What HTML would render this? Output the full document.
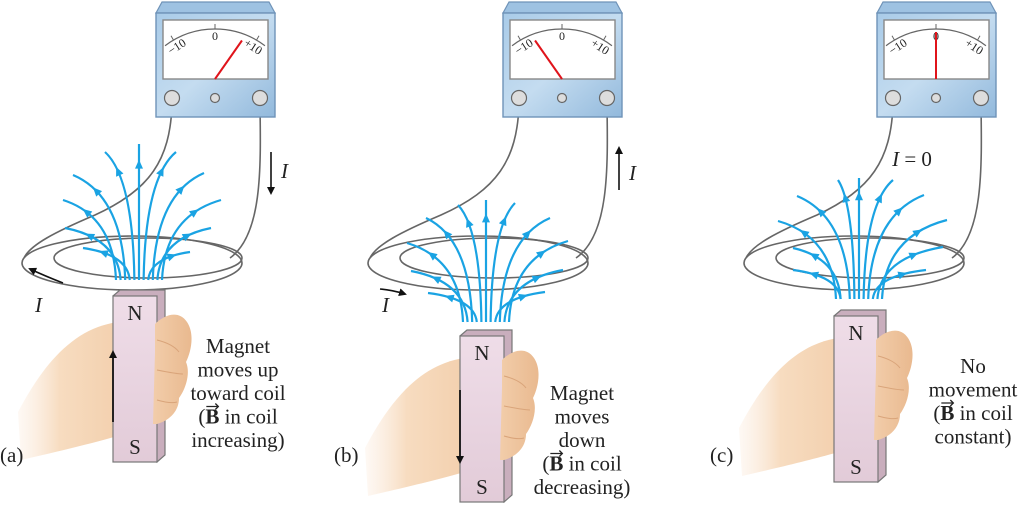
<!DOCTYPE html>
<html><head><meta charset="utf-8"><style>
html,body{margin:0;padding:0;background:#fff}
svg{display:block}
text{font-family:"Liberation Serif",serif;fill:#222}
</style></head><body>
<svg id="s" width="1024" height="505" viewBox="0 0 1024 505" xmlns="http://www.w3.org/2000/svg">
<defs>
<linearGradient id="meterG" x1="0" y1="0" x2="1" y2="1"><stop offset="0" stop-color="#a9cbe8"/><stop offset="0.5" stop-color="#c4dcf0"/><stop offset="1" stop-color="#92b9dc"/></linearGradient>
<linearGradient id="skin" x1="0" y1="0" x2="1" y2="0"><stop offset="0" stop-color="#fbeadb" stop-opacity="0.3"/><stop offset="0.3" stop-color="#f7dcc0"/><stop offset="1" stop-color="#f0c8a2"/></linearGradient>
<linearGradient id="fistG" x1="0" y1="0" x2="1" y2="0"><stop offset="0" stop-color="#f2cdaa"/><stop offset="1" stop-color="#e9b98f"/></linearGradient>
<linearGradient id="mag" x1="0" y1="0" x2="0" y2="1"><stop offset="0" stop-color="#efdde8"/><stop offset="1" stop-color="#e2cbd8"/></linearGradient>
<marker id="ah" markerWidth="8" markerHeight="8" refX="6" refY="4" orient="auto" markerUnits="userSpaceOnUse"><path d="M0,0 L8,4 L0,8 z" fill="#111"/></marker>
</defs>
<g id="root"></g>
</svg>
<script>
// panel data
const panelIds = ['a','b','c'];
const meterOffsets = [0, 347, 721];
const coilOffsets = [0, 346, 722];
const needleAngles = [35, -35, 0]; // degrees from vertical
const fieldOrigins = [[139,280],[486,322],[859,299]];
const fieldEndsA = [[139,144],[105,152],[176,152],[73,175],[204,173],[63,200],[221,200],[65,228],[211,228],[83,248],[190,252]];
const fieldEndsB = [[486,200],[458,205],[515,203],[426,218],[550,218],[407,243],[568,241],[411,271],[563,270],[428,293],[545,292]];
const fieldEndsC = [[859,178],[838,180],[893,180],[797,196],[924,195],[778,221],[947,220],[793,248],[943,247],[793,270],[926,270]];
const fieldEnds = [fieldEndsA, fieldEndsB, fieldEndsC];
const magnets = [[113,290],[460,330],[834,310]];
const grips = [[113,312],[460,348],[834,328]];
const captionsA = ['Magnet','moves up','toward coil','(B in coil','increasing)'];
const captionsB = ['Magnet','moves','down','(B in coil','decreasing)'];
const captionsC = ['No','movement','(B in coil','constant)'];
const captions = [captionsA, captionsB, captionsC];
const captionPos = [[238,353],[582,400],[973,373]];
const labels = ['(a)','(b)','(c)'];
const labelPos = [[0,462],[334,462],[710,462]];

const NS='http://www.w3.org/2000/svg';
const root=document.getElementById('root');
function mk(tag,attrs,parent){const e=document.createElementNS(NS,tag);for(const k in attrs)e.setAttribute(k,attrs[k]);(parent||root).appendChild(e);return e;}

panelIds.forEach((pid,i)=>{
  const P=mk('g',{});
  
  
  const mo=meterOffsets[i], co=coilOffsets[i];
  const w1=mk('path',{d:`M${172+mo},105 C${170+mo},160 ${150+mo},190 ${95+co},215 C${55+co},232 ${30+co},245 ${24+co},258`,fill:'none',stroke:'#666','stroke-width':1.6},P);
  
  
  const w2=mk('path',{d:`M${260+mo},105 C${261+mo},170 ${262+mo},235 ${230+co},258`,fill:'none',stroke:'#666','stroke-width':1.6},P);
  
  
  const c1=mk('ellipse',{cx:132+co,cy:263,rx:110,ry:27,fill:'none',stroke:'#666','stroke-width':1.6},P);
  
  
  const c2=mk('ellipse',{cx:148+co,cy:258,rx:94,ry:20,fill:'none',stroke:'#666','stroke-width':1.6},P);
  
  
  const M=mk('g',{transform:`translate(${mo},0)`},P);
  
  
  mk('path',{d:'M162,2 L269,2 L275,13 L156,13 Z',fill:'#9ec2e2',stroke:'#6f93b8','stroke-width':1.2},M);
  mk('rect',{x:156,y:13,width:119,height:104,fill:'url(#meterG)',stroke:'#6f93b8','stroke-width':1.4},M);
  const face=mk('rect',{x:163,y:20,width:105,height:59,fill:'#fff',stroke:'#888','stroke-width':1.4},M);
  
  
  const cx=215, cy=112, r=83;
  const a0=-37*Math.PI/180, a1=37*Math.PI/180;
  mk('path',{d:`M${cx+r*Math.sin(a0)},${cy-r*Math.cos(a0)} A${r},${r} 0 0 1 ${cx+r*Math.sin(a1)},${cy-r*Math.cos(a1)}`,fill:'none',stroke:'#666','stroke-width':1.2},M);
  [-30,0,30].forEach(d=>{const t=d*Math.PI/180;mk('line',{x1:cx+r*Math.sin(t),y1:cy-r*Math.cos(t),x2:cx+(r+5)*Math.sin(t),y2:cy-(r+5)*Math.cos(t),stroke:'#666','stroke-width':1},M);});
  let t=mk('text',{x:179,y:50,'font-size':12,'text-anchor':'middle',transform:'rotate(-33 179 50)'},M);t.textContent='−10';
  
  t=mk('text',{x:215,y:40,'font-size':12,'text-anchor':'middle'},M);t.textContent='0';
  
  t=mk('text',{x:251,y:50,'font-size':12,'text-anchor':'middle',transform:'rotate(33 251 50)'},M);t.textContent='+10';
  
  const na=needleAngles[i]*Math.PI/180;
  const nd=mk('line',{x1:215,y1:79,x2:215+47*Math.sin(na),y2:79-47*Math.cos(na),stroke:'#e0141b','stroke-width':2},M);
  
  
  [[172,98,7.5],[215,98,4.5],[260,98,7.5]].forEach((c,k)=>{const e=mk('circle',{cx:c[0],cy:c[1],r:c[2],fill:'#ddd',stroke:'#666','stroke-width':1.2},M);
    
    });
  // hand (behind magnet)
  const [gx,gy]=grips[i];
  const hand=mk('path',{d:`M${gx-95},${gy+100} C${gx-75},${gy+62} ${gx-50},${gy+28} ${gx-15},${gy+15} C${gx+10},${gy+6} ${gx+30},${gy+8} ${gx+44},${gy+10} L${gx+44},${gy+110} C${gx+20},${gy+122} ${gx-40},${gy+136} ${gx-92},${gy+148} Z`,fill:'url(#skin)'},P);
  
  
  const [mx,my]=magnets[i];
  const bottom=Math.min(my+172,503);
  const MG=mk('g',{},P);
  
  
  mk('path',{d:`M${mx},${my+6} L${mx+7},${my} L${mx+52},${my} L${mx+52},${bottom-7} L${mx+44},${bottom} Z`,fill:'#c9aebd',stroke:'#777','stroke-width':1.2},MG);
  mk('rect',{x:mx,y:my+6,width:44,height:bottom-my-6,fill:'url(#mag)',stroke:'#777','stroke-width':1.2},MG);
  t=mk('text',{x:mx+22,y:my+30,'font-size':21,'text-anchor':'middle'},MG);t.textContent='N';
  
  t=mk('text',{x:mx+22,y:bottom-8,'font-size':21,'text-anchor':'middle'},MG);t.textContent='S';
  
  // fist over magnet side
  const fist=mk('path',{d:`M${gx+42},${gy+12} C${gx+52},${gy+2} ${gx+66},${gy-2} ${gx+74},${gy+10} C${gx+82},${gy+22} ${gx+78},${gy+40} ${gx+73},${gy+50} C${gx+78},${gy+62} ${gx+72},${gy+78} ${gx+66},${gy+86} C${gx+66},${gy+98} ${gx+58},${gy+108} ${gx+44},${gy+112} L${gx+40},${gy+112} L${gx+42},${gy+40} Z`,fill:'url(#fistG)'},P);
  
  
  [[44,20,66,40],[44,50,70,62],[44,80,64,90]].forEach(q=>{
    const cr=mk('path',{d:`M${gx+q[0]},${gy+q[1]+8} Q${gx+q[2]-6},${gy+q[1]+12} ${gx+q[2]},${gy+q[3]}`,fill:'none',stroke:'#d9a47a','stroke-width':1},P);
    
    
  });
  // field lines
  const [ox,oy]=fieldOrigins[i];
  const ends=fieldEnds[i];
  const sorted=ends.map(e=>e[0]).slice().sort((a,b)=>a-b);
  ends.forEach((e,k)=>{
    const rank=sorted.indexOf(e[0]);
    const sx=ox+(rank-(ends.length-1)/2)*4.6;
    const ctrl=[sx+(e[0]-sx)*0.05, e[1]+(oy-e[1])*0.2];
    const fl=mk('path',{d:`M${sx},${oy} Q${ctrl[0]},${ctrl[1]} ${e[0]},${e[1]}`,fill:'none',stroke:'#1aa3e3','stroke-width':2.2},P);
    
    
    const tt=0.72,u=1-tt;
    const px=u*u*sx+2*u*tt*ctrl[0]+tt*tt*e[0], py=u*u*oy+2*u*tt*ctrl[1]+tt*tt*e[1];
    let dx=2*u*(ctrl[0]-sx)+2*tt*(e[0]-ctrl[0]), dy=2*u*(ctrl[1]-oy)+2*tt*(e[1]-ctrl[1]);
    const L=Math.hypot(dx,dy);dx/=L;dy/=L;
    const ah=mk('path',{d:`M${px+dx*6},${py+dy*6} L${px-dx*3+dy*4},${py-dy*3-dx*4} L${px-dx*3-dy*4},${py-dy*3+dx*4} Z`,fill:'#1aa3e3'},P);
    
    
  });
  if(i<2){
    const ma=mk('line',i==0?{x1:113,y1:422,x2:113,y2:352}:{x1:460,y1:390,x2:460,y2:462},P);
    ma.setAttribute('stroke','#111');ma.setAttribute('stroke-width',1.8);ma.setAttribute('marker-end','url(#ah)');
    
    
    const ca=mk('line',i==0?{x1:271,y1:152,x2:271,y2:193}:{x1:619,y1:190,x2:619,y2:148},P);
    ca.setAttribute('stroke','#111');ca.setAttribute('stroke-width',1.6);ca.setAttribute('marker-end','url(#ah)');
    
    
    t=mk('text',{x:i==0?281:629,y:i==0?178:180,'font-size':21,'font-style':'italic'},P);t.textContent='I';
    
    const la=mk('path',{d:i==0?'M63,283 Q45,276 30,269':'M380,289 Q392,290 405,294'},P);
    la.setAttribute('fill','none');la.setAttribute('stroke','#111');la.setAttribute('stroke-width',1.6);la.setAttribute('marker-end','url(#ah)');
    
    
    t=mk('text',{x:i==0?35:382,y:312,'font-size':21,'font-style':'italic'},P);t.textContent='I';
    
  } else {
    t=mk('text',{x:912,y:166,'font-size':21,'text-anchor':'middle'},P);
    const ti=mk('tspan',{'font-style':'italic'},t);ti.textContent='I';
    const t2=mk('tspan',{},t);t2.textContent=' = 0';
    
  }
  const [tx,ty]=captionPos[i];
  captions[i].forEach((s,k)=>{
    const y=ty+k*23.5;
    const ct=mk('text',{x:tx,y:y,'font-size':21,'text-anchor':'middle'},P);
    if(s.startsWith('(B')){
      mk('tspan',{},ct).textContent='(';
      const b=mk('tspan',{'font-weight':'bold'},ct);b.textContent='B';
      mk('tspan',{},ct).textContent=s.slice(2);
      
      
      try{
        const st=ct.getStartPositionOfChar(1), en=ct.getEndPositionOfChar(1);
        const vx=mk('path',{d:`M${st.x+1},${y-17} L${en.x-1},${y-17} M${en.x-4},${y-20} L${en.x-1},${y-17} L${en.x-4},${y-14}`,fill:'none',stroke:'#222','stroke-width':1.3},P);
        
        
      }catch(err){}
    } else {
      ct.textContent=s;
      
      
    }
  });
  const lb=mk('text',{x:labelPos[i][0],y:labelPos[i][1],'font-size':21},P);lb.textContent=labels[i];
  
  
});
</script>
</body></html>
